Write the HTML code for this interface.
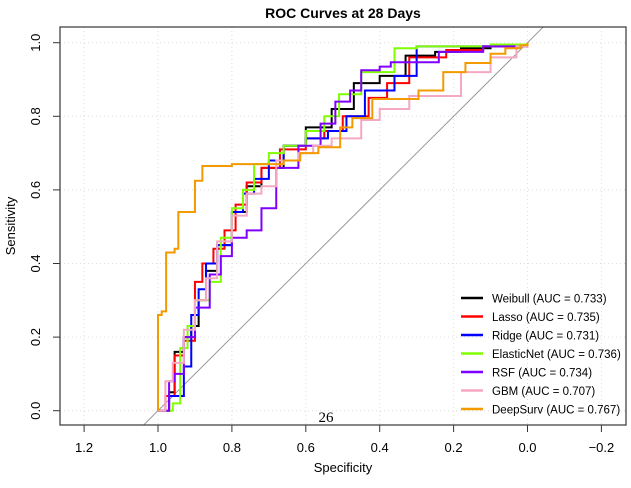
<!DOCTYPE html>
<html><head><meta charset="utf-8"><style>
body{margin:0;background:#fff}
svg{display:block;font-family:"Liberation Sans",sans-serif}
</style></head><body>
<svg id="chart" width="631" height="488">
<defs><clipPath id="clip"><rect x="60" y="27" width="566" height="398"/></clipPath></defs>
<text x="343" y="18" text-anchor="middle" font-size="14" font-weight="bold">ROC Curves at 28 Days</text>
<text x="343" y="472" text-anchor="middle" font-size="13">Specificity</text>
<text transform="translate(15,226) rotate(-90)" text-anchor="middle" font-size="13">Sensitivity</text>
<g id="grid"></g><g id="axes"></g>
<line id="diag" stroke="#999" stroke-width="1" clip-path="url(#clip)"/>
<g id="curves" clip-path="url(#clip)"></g>
<rect x="60" y="27" width="566" height="398" fill="none" stroke="#444" stroke-width="1.3"/>
<text x="326" y="422" text-anchor="middle" font-size="15" font-family="Liberation Serif,serif">26</text>
<g id="legend"></g>
</svg>
<script>
const xTicks=[1.2,1.0,0.8,0.6,0.4,0.2,0.0,-0.2];
const xTickLabels=["1.2","1.0","0.8","0.6","0.4","0.2","0.0","\u22120.2"];
const yTicks=[0,0.2,0.4,0.6,0.8,1.0];
const yTickLabels=["0.0","0.2","0.4","0.6","0.8","1.0"];
const models=["Weibull","Lasso","Ridge","ElasticNet","RSF","GBM","DeepSurv"];
const aucs=["0.733","0.735","0.731","0.736","0.734","0.707","0.767"];
const colors=["#000000","#ff0000","#0000ff","#80ff00","#8000ff","#f4a9c0","#f39a00"];
const specWeibull=[1,0.97,0.955,0.93,0.91,0.89,0.87,0.84,0.80,0.76,0.72,0.66,0.60,0.53,0.47,0.40,0.33,0.25,0.18,0.10,0.0];
const sensWeibull=[0,0.05,0.16,0.20,0.23,0.30,0.38,0.45,0.54,0.61,0.66,0.72,0.77,0.82,0.89,0.91,0.965,0.975,0.985,0.99,1.0];
const specLasso=[1,0.98,0.955,0.93,0.90,0.88,0.85,0.82,0.79,0.76,0.72,0.67,0.60,0.55,0.50,0.43,0.38,0.32,0.22,0.12,0.0];
const sensLasso=[0,0.04,0.15,0.19,0.35,0.40,0.44,0.49,0.56,0.62,0.66,0.71,0.74,0.76,0.80,0.85,0.89,0.96,0.98,0.99,1.0];
const specRidge=[1,0.97,0.93,0.91,0.89,0.87,0.84,0.80,0.77,0.74,0.70,0.66,0.60,0.54,0.49,0.44,0.36,0.30,0.20,0.10,0.0];
const sensRidge=[0,0.04,0.12,0.26,0.33,0.40,0.45,0.54,0.59,0.63,0.68,0.72,0.74,0.76,0.80,0.87,0.91,0.99,0.99,0.995,1.0];
const specElastic=[1,0.96,0.94,0.92,0.90,0.86,0.83,0.80,0.77,0.74,0.70,0.66,0.60,0.55,0.51,0.45,0.36,0.30,0.20,0.10,0.0];
const sensElastic=[0,0.02,0.17,0.23,0.30,0.35,0.47,0.55,0.60,0.67,0.70,0.72,0.76,0.80,0.86,0.92,0.985,0.99,0.99,0.995,1.0];
const specRSF=[1,0.97,0.955,0.93,0.90,0.86,0.83,0.80,0.76,0.72,0.68,0.62,0.56,0.52,0.48,0.45,0.40,0.37,0.24,0.12,0.0];
const sensRSF=[0,0.08,0.10,0.20,0.28,0.37,0.42,0.47,0.49,0.55,0.66,0.72,0.78,0.84,0.87,0.925,0.935,0.947,0.975,0.99,1.0];
const specGBM=[1,0.98,0.96,0.93,0.90,0.87,0.84,0.80,0.76,0.72,0.68,0.62,0.58,0.53,0.45,0.40,0.32,0.18,0.10,0.03,0.0];
const sensGBM=[0,0.08,0.13,0.22,0.30,0.36,0.46,0.53,0.59,0.61,0.68,0.70,0.72,0.74,0.79,0.82,0.855,0.92,0.96,0.99,1.0];
const specDeep=[1,0.99,0.978,0.955,0.945,0.90,0.88,0.80,0.66,0.615,0.566,0.507,0.474,0.42,0.295,0.228,0.168,0.10,0.06,0.019,0.0];
const sensDeep=[0.26,0.27,0.43,0.44,0.54,0.625,0.665,0.67,0.68,0.70,0.716,0.77,0.795,0.847,0.87,0.92,0.945,0.97,0.985,0.993,1.0];
const specs=[specWeibull,specLasso,specRidge,specElastic,specRSF,specGBM,specDeep];
const senss=[sensWeibull,sensLasso,sensRidge,sensElastic,sensRSF,sensGBM,sensDeep];
const NS="http://www.w3.org/2000/svg";
const X=v=>527.5-v*369.5, Y=v=>410.7-v*368;
function mk(t,a,p){const e=document.createElementNS(NS,t);for(const k in a)e.setAttribute(k,a[k]);p.appendChild(e);return e;}
const grid=document.getElementById('grid'),axes=document.getElementById('axes');
xTicks.forEach((v,i)=>{
 const g=mk('line',{x1:X(v),x2:X(v),y1:27,y2:425,stroke:'#ddd','stroke-dasharray':'1 3'},grid);
 
 const t=mk('line',{x1:X(v),x2:X(v),y1:425,y2:432,stroke:'#333'},axes);
 
 const l=mk('text',{x:X(v),y:452,'text-anchor':'middle','font-size':13},axes);l.textContent=xTickLabels[i];
 
});
yTicks.forEach((v,i)=>{
 const g=mk('line',{x1:60,x2:626,y1:Y(v),y2:Y(v),stroke:'#ddd','stroke-dasharray':'1 3'},grid);
 
 const t=mk('line',{x1:53,x2:60,y1:Y(v),y2:Y(v),stroke:'#333'},axes);
 
 const l=mk('text',{transform:`translate(40,${Y(v)}) rotate(-90)`,'text-anchor':'middle','font-size':13},axes);l.textContent=yTickLabels[i];
 
});
const d=document.getElementById('diag');
d.setAttribute('x1',X(1.1));d.setAttribute('y1',Y(-0.1));d.setAttribute('x2',X(-0.1));d.setAttribute('y2',Y(1.1));
const cg=document.getElementById('curves');
models.forEach((m,k)=>{
 const s=specs[k],n=senss[k];let p=`M${X(1)},${Y(0)} L${X(s[0])},${Y(n[0])}`;
 for(let i=1;i<s.length;i++)p+=` L${X(s[i])},${Y(n[i-1])} L${X(s[i])},${Y(n[i])}`;
 const e=mk('path',{d:p,fill:'none',stroke:colors[k],'stroke-width':2},cg);
 
});
const lg=document.getElementById('legend');
models.forEach((m,k)=>{
 const y=298+k*18.5;
 const ln=mk('line',{x1:461,x2:483,y1:y,y2:y,stroke:colors[k],'stroke-width':2.5},lg);
 
 const t=mk('text',{x:492,y:y+4.5,'font-size':11.5},lg);t.textContent=`${m} (AUC = ${aucs[k]})`;
 
});
</script>
</body></html>
